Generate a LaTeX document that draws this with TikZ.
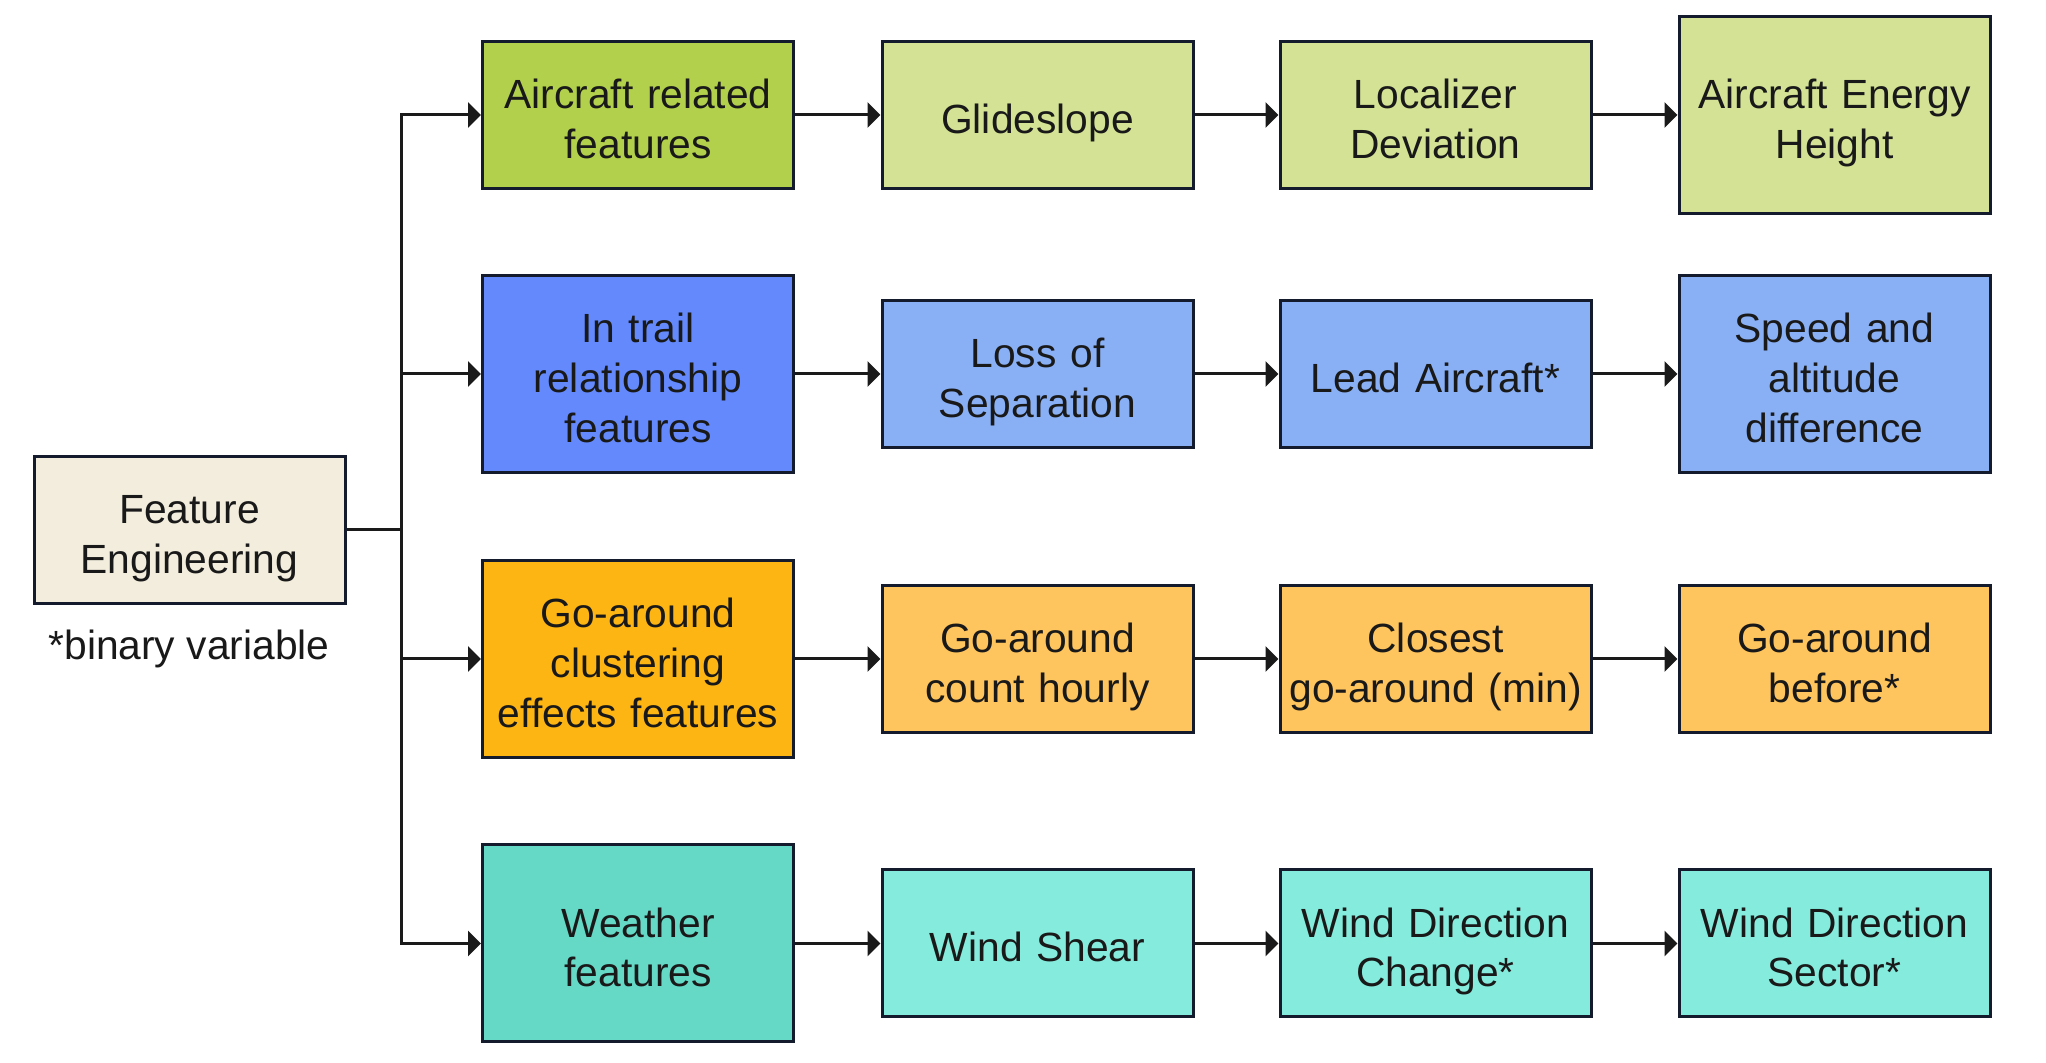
\documentclass[tikz,border=0pt]{standalone}
\usepackage{fontspec}
\setmainfont{Liberation Sans}
\usepackage{xcolor}
\definecolor{boxline}{HTML}{141B2D}
\definecolor{wire}{HTML}{1A1A1A}
\definecolor{cream}{HTML}{F2EDDC}
\definecolor{greendark}{HTML}{B2D04B}
\definecolor{greenlight}{HTML}{D3E294}
\definecolor{bluedark}{HTML}{6389FD}
\definecolor{bluelight}{HTML}{89AFF4}
\definecolor{orangedark}{HTML}{FDB514}
\definecolor{orangelight}{HTML}{FEC45D}
\definecolor{tealdark}{HTML}{65D8C6}
\definecolor{teallight}{HTML}{85EBDC}
\usetikzlibrary{arrows.meta}
\usetikzlibrary{positioning}

\begin{document}
\begin{tikzpicture}[every node/.style={font=\fontsize{11.6}{14.2}\selectfont, text=black!90, execute at begin node={\rule{0pt}{0.37cm}}},
  box/.style={draw=boxline, line width=0.03cm, minimum width=3.11cm, minimum height=1.47cm, inner sep=0pt, text width=3.11cm, align=center, execute at end node={\endgraf\kern-\prevdepth}},
  tall/.style={minimum height=1.97cm},
  wireline/.style={draw=wire, line width=0.03cm},
  arrow/.style={wireline, -{Triangle[length=0.13cm,width=0.25cm]}}]

\useasboundingbox (0,0) rectangle (20.46,10.63);

% Root
  \node[box, fill=cream] (fe) at (1.895,5.33) {Feature\\Engineering};
  \node[text depth=0pt] (note) at (1.89,4.22) {*binary variable};
  \coordinate (split) at (4.01,5.33);

% Aircraft related
  \node[box, fill=greendark] (ac) at (6.38,9.48) {Aircraft related\\features};
  \node[box, fill=greenlight] (glide) at (10.375,9.48) {Glideslope};
  \node[box, fill=greenlight] (loc) at (14.355,9.48) {Localizer\\Deviation};
  \node[box, tall, fill=greenlight] (energy) at (18.345,9.48) {Aircraft Energy\\Height};

% In trail
  \node[box, tall, fill=bluedark] (trail) at (6.38,6.89) {In trail\\relationship\\features};
  \node[box, fill=bluelight] (los) at (10.375,6.89) {Loss of\\Separation};
  \node[box, fill=bluelight] (lead) at (14.355,6.89) {Lead Aircraft*};
  \node[box, tall, fill=bluelight] (speed) at (18.345,6.89) {Speed and\\altitude\\difference};

% Go-around clustering
  \node[box, tall, fill=orangedark] (ga) at (6.38,4.04) {Go-around\\clustering\\effects features};
  \node[box, fill=orangelight] (count) at (10.375,4.04) {Go-around\\count hourly};
  \node[box, fill=orangelight] (closest) at (14.355,4.04) {Closest\\go-around (min)};
  \node[box, fill=orangelight] (before) at (18.345,4.04) {Go-around\\before*};

% Weather
  \node[box, tall, fill=tealdark] (weather) at (6.38,1.195) {Weather\\features};
  \node[box, fill=teallight] (shear) at (10.375,1.195) {Wind Shear};
  \node[box, fill=teallight] (wdc) at (14.355,1.195) {Wind Direction\\Change*};
  \node[box, fill=teallight] (wds) at (18.345,1.195) {Wind Direction\\Sector*};

% Connectors
\draw[wireline] (fe.east) -- (split);
\foreach \first in {ac,trail,ga,weather}
  \draw[arrow] (split) |- (\first.west);

\draw[arrow] (ac) -- (glide);
\draw[arrow] (glide) -- (loc);
\draw[arrow] (loc) -- (energy);
\draw[arrow] (trail) -- (los);
\draw[arrow] (los) -- (lead);
\draw[arrow] (lead) -- (speed);
\draw[arrow] (ga) -- (count);
\draw[arrow] (count) -- (closest);
\draw[arrow] (closest) -- (before);
\draw[arrow] (weather) -- (shear);
\draw[arrow] (shear) -- (wdc);
\draw[arrow] (wdc) -- (wds);

\end{tikzpicture}
\end{document}
